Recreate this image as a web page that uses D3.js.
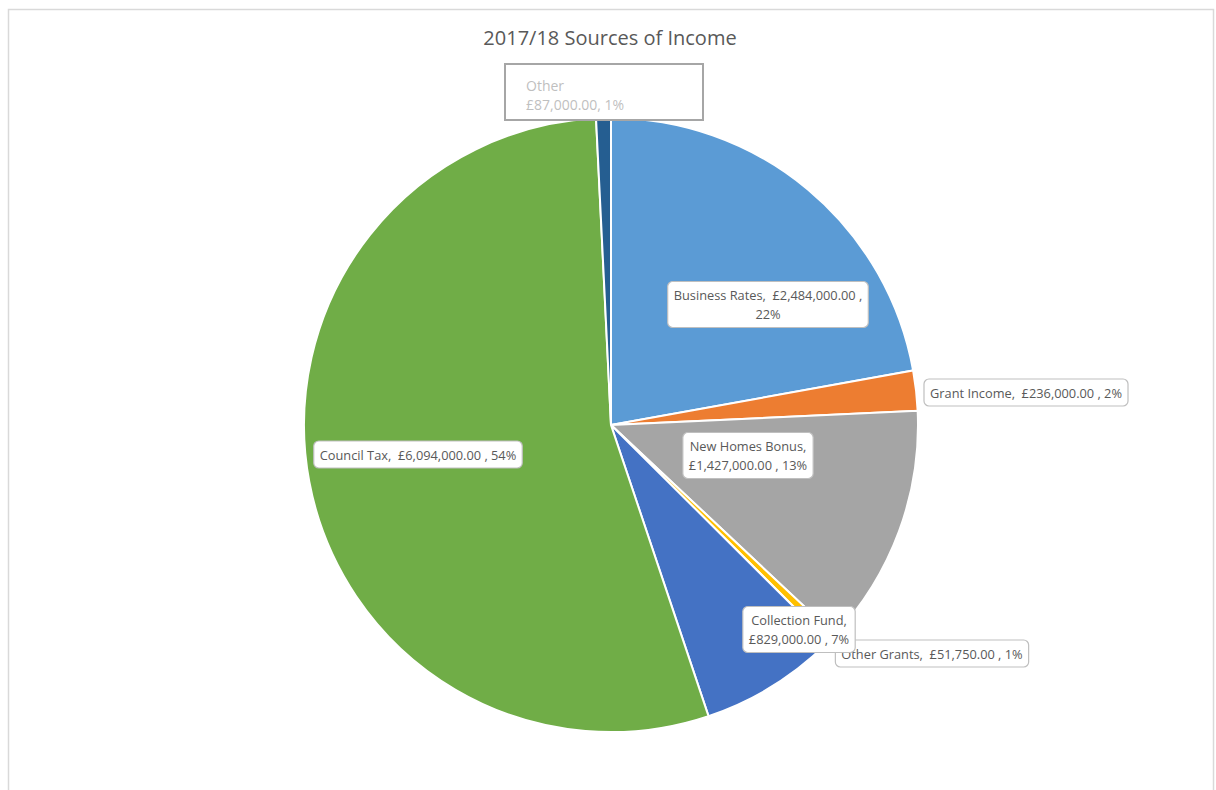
<!DOCTYPE html>
<html>
<head>
<meta charset="utf-8">
<script src="https://cdn.jsdelivr.net/npm/d3@7"></script>
<style>
  body { margin: 0; background: #fff; }
  svg { display: block; }
  text { white-space: pre; }
</style>
</head>
<body>
<div id="chart"></div>
<script>
// data
var categories = ["Business Rates", "Grant Income", "New Homes Bonus", "Other Grants", "Collection Fund", "Council Tax", "Other"];
var amounts = [2484000, 236000, 1427000, 51750, 829000, 6094000, 87000];
var percentLabels = ["22%", "2%", "13%", "1%", "7%", "54%", "1%"];
var sliceColors = ["#5B9BD5", "#ED7D31", "#A5A5A5", "#FFC000", "#4472C4", "#70AD47", "#255E91"];

var width = 1216, height = 790;
var cx = 611, cy = 425, radius = 307;
var font = "'Open Sans', 'Noto Sans', sans-serif";

// label layout: centre of each label box relative to pie centre, and its text lines
var labelLayout = {
    "Business Rates": { dx: 157, dy: -120, lines: function(v, p) { return ["Business Rates,  " + v + " ,", p]; } },
    "Grant Income": { dx: 415, dy: -32, lines: function(v, p) { return ["Grant Income,  " + v + " , " + p]; } },
    "New Homes Bonus": { dx: 137, dy: 31, lines: function(v, p) { return ["New Homes Bonus,", v + " , " + p]; } },
    "Other Grants": { dx: 321, dy: 229, lines: function(v, p) { return ["Other Grants,  " + v + " , " + p]; } },
    "Collection Fund": { dx: 188, dy: 205, lines: function(v, p) { return ["Collection Fund,", v + " , " + p]; } },
    "Council Tax": { dx: -193, dy: 30, lines: function(v, p) { return ["Council Tax,  " + v + " , " + p]; } },
    "Other": { dx: -7, dy: -333, lines: function(v, p) { return ["Other", v + ", " + p]; } }
};
// order in which labels get drawn (later ones on top)
var drawOrder = ["Business Rates", "Grant Income", "New Homes Bonus", "Other Grants", "Collection Fund", "Council Tax", "Other"];

var fmt = d3.format(",.2f");
var data = categories.map(function(c, i) {
    return { name: c, value: amounts[i], pct: percentLabels[i], color: sliceColors[i] };
});

var svg = d3.select("#chart").append("svg")
    .attr("width", width)
    .attr("height", height);

// chart area border
svg.append("rect")
    .attr("x", 8.5).attr("y", 9.5)
    .attr("width", 1205).attr("height", 800)
    .attr("fill", "#fff")
    .attr("stroke", "#d9d9d9")
    .attr("stroke-width", 1.5);

svg.append("text")
    .attr("x", 610).attr("y", 45)
    .attr("text-anchor", "middle")
    .style("font-family", font)
    .style("font-size", "20px")
    .style("fill", "#595959")
    .text("2017/18 Sources of Income");

var pie = d3.pie().sort(null).value(function(d) { return d.value; });
var arc = d3.arc().innerRadius(0).outerRadius(radius);

var g = svg.append("g").attr("transform", "translate(" + cx + "," + cy + ")");

g.selectAll("path.slice")
    .data(pie(data))
    .enter()
    .append("path")
    .attr("class", "slice")
    .attr("d", arc)
    .attr("fill", function(d) { return d.data.color; })
    .attr("stroke", "#fff")
    .attr("stroke-width", 2);

// data labels
var lineH = 19;
drawOrder.forEach(function(name) {
    var d = data.find(function(e) { return e.name === name; });
    var lay = labelLayout[name];
    var lines = lay.lines("£" + fmt(d.value), d.pct);
    var isOther = name === "Other";

    var lg = g.append("g").attr("transform", "translate(" + lay.dx + "," + lay.dy + ")");
    var box = lg.append("rect");
    var txt = lg.append("text")
        .style("font-family", font)
        .style("font-size", isOther ? "14px" : "12.8px")
        .style("fill", isOther ? "#bfbfbf" : "#595959")
        .attr("text-anchor", isOther ? "start" : "middle");

    lines.forEach(function(l, i) {
        txt.append("tspan")
            .attr("x", 0)
            .attr("y", (i - (lines.length - 1) / 2) * lineH + (isOther ? 8 : 4.5))
            .text(l);
    });

    var bb = txt.node().getBBox();
    if (isOther) {
        var w = 198, h = 56;
        txt.selectAll("tspan").attr("x", -w / 2 + 21);
        box.attr("x", -w / 2).attr("y", -h / 2).attr("width", w).attr("height", h)
            .attr("fill", "#fff").attr("stroke", "#a6a6a6").attr("stroke-width", 2);
    } else {
        var padX = 6, padY = 4.5;
        box.attr("x", bb.x - padX).attr("y", bb.y - padY)
            .attr("width", bb.width + 2 * padX).attr("height", bb.height + 2 * padY)
            .attr("rx", 5).attr("ry", 5)
            .attr("fill", "#fff").attr("stroke", "#bfbfbf").attr("stroke-width", 1.2);
    }
});
</script>
</body>
</html>
